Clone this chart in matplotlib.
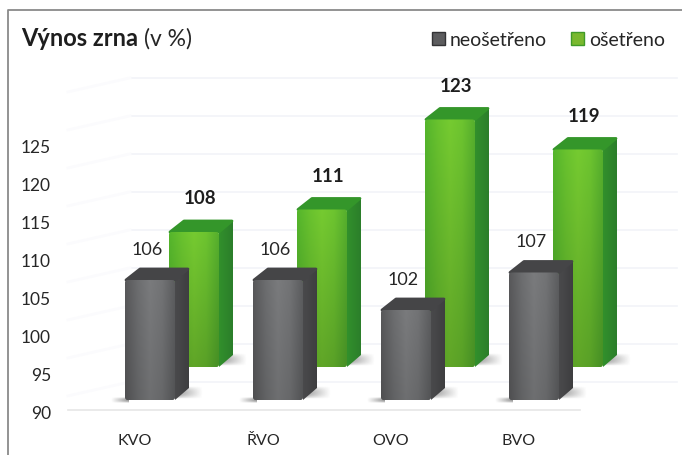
# Vynos zrna chart, fake 3D bars drawn on a flat axes
import numpy as np
import matplotlib
matplotlib.use('Agg')
import matplotlib.pyplot as plt
from matplotlib.colors import LinearSegmentedColormap
from matplotlib.patches import FancyBboxPatch, Polygon

categories = ['KVO', 'ŘVO', 'OVO', 'BVO']
neosetreno = [106, 106, 102, 107]
osetreno = [108, 111, 123, 119]
y_ticks = [90, 95, 100, 105, 110, 115, 120, 125]

plt.rcParams['font.family'] = ['Lato', 'DejaVu Sans']

# axes fill the figure, 1 category = 128 px and 1 % = 7.6 px
fig = plt.figure(figsize=(6.82, 4.56), dpi=100)
ax = fig.add_axes([0, 0, 1, 1])
px = 1 / 128
py = 1 / 7.6
ax.set_xlim(-150 * px, 532 * px)
ax.set_ylim(90 - 45 * py, 90 + 411 * py)
ax.axis('off')

# bars stand closer than the labelled scale, so they come out a bit shorter
bar_scale = 0.987

gray_front = LinearSegmentedColormap.from_list('gf', ['#58585a', '#6c6d6f', '#7a7b7d', '#727375', '#5c5d5f'])
gray_side = LinearSegmentedColormap.from_list('gs', ['#4a4a4c', '#3e3e40'])
green_front = LinearSegmentedColormap.from_list('nf', ['#4da528', '#5fb02a', '#6bb82c', '#63b22b', '#4e9f29'])
green_side = LinearSegmentedColormap.from_list('ns', ['#32902c', '#2b7e2a'])


def soft_shadow(x0, x1, y0, y1, strength, fade_x):
    # small blurred patch lying on the floor
    xx, yy = np.meshgrid(np.linspace(0, 1, 40), np.linspace(-1, 1, 20))
    alpha = np.clip(1 - yy**2, 0, 1)
    if fade_x:
        alpha = alpha * (1 - xx)
    else:
        alpha = alpha * xx
    rgba = np.zeros((20, 40, 4))
    rgba[..., :3] = 0.3
    rgba[..., 3] = alpha * strength
    ax.imshow(rgba, extent=(x0, x1, y0, y1), aspect='auto', zorder=1.5, interpolation='bilinear')


def bar3d(x, value, base, front, side, top_color, z, top_shade):
    w = 50 * px
    dx = 14 * px
    dy = 12 * py
    height = (value - 90) * bar_scale
    lift = base + height

    # shadows at both sides of the foot
    soft_shadow(x + w, x + w + dx + 14 * px, base + 1 * py, base + 14 * py, 0.6, True)
    soft_shadow(x - 14 * px, x + 4 * px, base - 3 * py, base + 3 * py, 0.6, False)

    # side face
    corners = [(x + w, base), (x + w + dx, base + dy), (x + w + dx, lift + dy), (x + w, lift)]
    patch = Polygon(corners, closed=True, transform=ax.transData, facecolor='none', edgecolor='none')
    ax.add_patch(patch)
    im = ax.imshow(np.linspace(0, 1, 32).reshape(1, -1), cmap=side, aspect='auto',
                   extent=(x + w, x + w + dx, base, lift + dy), zorder=z)
    im.set_clip_path(patch)

    # top face, pulled in a little so the thick round edge keeps to the bar width
    ax.add_patch(Polygon([(x + 1 * px, lift), (x + dx + 1 * px, lift + dy - 1 * py),
                          (x + w + dx - 1 * px, lift + dy - 1 * py), (x + w, lift)],
                         closed=True, facecolor=top_color, edgecolor=top_color, lw=2,
                         joinstyle='round', zorder=z + 0.1))

    # front face, gradient across the width, brighter near the top
    rgba = front(np.linspace(0, 1, 64))[np.newaxis, :, :].repeat(64, axis=0)
    shade = np.linspace(top_shade, 0.9, 64)[:, np.newaxis, np.newaxis]
    rgba[..., :3] = np.clip(rgba[..., :3] * shade, 0, 1)
    box = FancyBboxPatch((x, base), w, height, boxstyle='round,pad=0,rounding_size=0.02',
                         mutation_aspect=(py / px), transform=ax.transData,
                         facecolor='none', edgecolor='none')
    ax.add_patch(box)
    im = ax.imshow(rgba, aspect='auto', extent=(x, x + w, base, lift), zorder=z + 0.2)
    im.set_clip_path(box)


# faint back wall lines and floor
for t in y_ticks + [130]:
    y = t + 3.7
    ax.plot([-20 * px, 527 * px], [y, y], color='#f2f4f8', lw=1.2, zorder=1)
    ax.plot([-82 * px, -20 * px], [y - 14 * py, y], color='#fbfbfd', lw=2, zorder=1)
ax.plot([-82 * px, 430 * px], [90, 90], color='#e6e6e6', lw=1.2, zorder=1)

# back row first, the gray row stands in front of it
for i, v in enumerate(osetreno):
    base = 90 + 43 * py
    bar3d(i + 19 * px, v, base, green_front, green_side, '#34962a', 2, 1.1)
    ax.text(i + 50 * px, base + (v - 90) * bar_scale + 34 * py, str(v), ha='center', va='center',
            fontsize=13.5, fontweight='bold', color='#1e1e1e', zorder=6)

for i, v in enumerate(neosetreno):
    base = 90 + 10 * py
    bar3d(i - 25 * px, v, base, gray_front, gray_side, '#454547', 4, 1.0)
    ax.text(i - 3 * px, base + (v - 90) * bar_scale + 31 * py, str(v), ha='center', va='center',
            fontsize=13, color='#262626', zorder=6)

ax.set_xlim(-150 * px, 532 * px)
ax.set_ylim(90 - 45 * py, 90 + 411 * py)

# value axis labels, they sit on the wall without tick marks
for t in y_ticks:
    ax.text(-99 * px, t - 3 * py, str(t), ha='right', va='center', fontsize=12.5, color='#262626')
for i, c in enumerate(categories):
    ax.text(i - 15 * px, 90 - 30 * py, c, ha='center', va='center', fontsize=11.5, color='#262626')

# title and legend
fig.text(21 / 682, 1 - 39 / 456, 'Výnos zrna', fontsize=17, fontweight='bold', color='#1e1e1e', va='center')
fig.text(144 / 682, 1 - 39 / 456, '(v %)', fontsize=16.5, color='#262626', va='center')
fig.text(450 / 682, 1 - 40 / 456, 'neošetřeno', fontsize=14, color='#262626', va='center')
fig.text(589 / 682, 1 - 40 / 456, 'ošetřeno', fontsize=14, color='#262626', va='center')
fig.patches.extend([
    plt.Rectangle((432 / 682, 1 - 46 / 456), 13 / 682, 13 / 456, transform=fig.transFigure, facecolor='#5c5c5e', edgecolor='#333335', lw=1),
    plt.Rectangle((571 / 682, 1 - 46 / 456), 13 / 682, 13 / 456, transform=fig.transFigure, facecolor='#79b82e', edgecolor='#3f9a28', lw=1),
])

# frame line on top and left only
fig.add_artist(plt.Line2D([8 / 682, 8 / 682, 1], [0, 1 - 11 / 456, 1 - 11 / 456], color='#8a8a8a', lw=1.3))

fig.savefig('out.png', dpi=100)
